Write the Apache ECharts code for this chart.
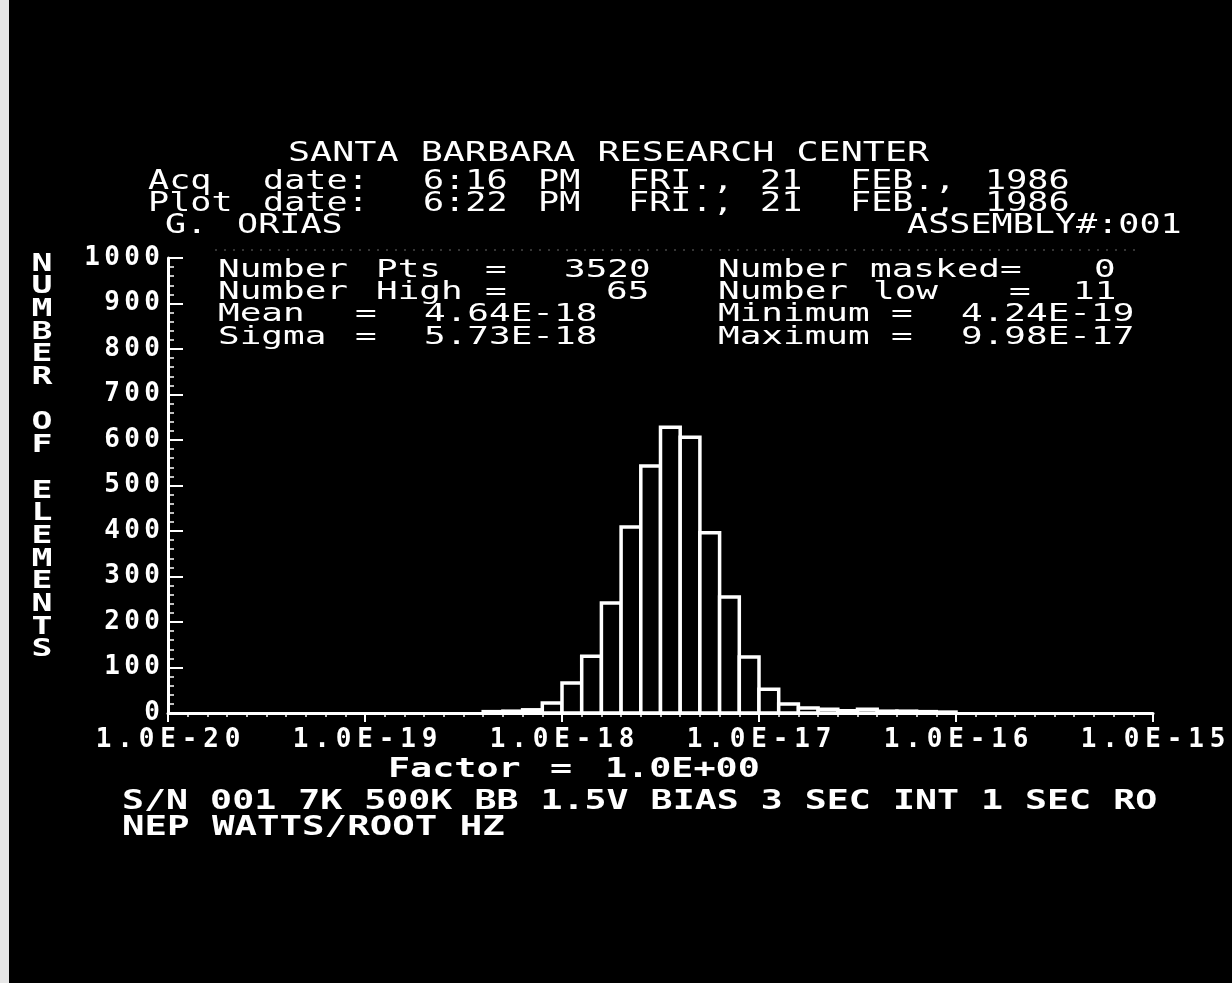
<!DOCTYPE html>
<html>
<head>
<meta charset="utf-8">
<script src="https://cdn.jsdelivr.net/npm/echarts@6/dist/echarts.min.js"></script>
<style>
html,body{margin:0;padding:0;background:#000;}
#chart{width:1232px;height:983px;}
</style>
</head>
<body>
<div id="chart"></div>
<script>
// ---- data ----
// histogram bins: lower edge as log10(NEP), each bin is 0.1 decade wide
const binStartExp = [-18.4, -18.3, -18.2, -18.1, -18.0, -17.9, -17.8, -17.7, -17.6, -17.5,
                     -17.4, -17.3, -17.2, -17.1, -17.0, -16.9, -16.8, -16.7, -16.6, -16.5,
                     -16.4, -16.3, -16.2, -16.1];
const binCounts   = [3, 4, 7, 22, 66, 125, 242, 409, 543, 628,
                     606, 396, 255, 123, 52, 20, 11, 8, 5, 8,
                     4, 4, 3, 2];
const BIN_WIDTH = 0.1;
const xTickExps   = [-20, -19, -18, -17, -16, -15];
const xTickLabels = ['1.0E-20', '1.0E-19', '1.0E-18', '1.0E-17', '1.0E-16', '1.0E-15'];
const yTicks      = [0, 100, 200, 300, 400, 500, 600, 700, 800, 900, 1000];

const MONO = '"DejaVu Sans Mono"';
const W = '#ffffff';

function perChar(s, key) {
  return s.split('').map(function (ch) { return '{' + key + '|' + ch + '}'; }).join('');
}

function t(x, y, s, font, sx) {
  return {
    type: 'text', x: x, y: y, scaleX: sx, silent: true,
    style: { text: s, font: font, fill: W, align: 'left', verticalAlign: 'middle',
             textAlign: 'left', textVerticalAlign: 'middle' }
  };
}

const fTitle = '27px ' + MONO;
const fStat = '25px ' + MONO;
const fBottom = 'bold 27px ' + MONO;

const graphics = [
  // scan edge
  { type: 'rect', silent: true, shape: { x: 0, y: 0, width: 9, height: 983 }, style: { fill: '#e6e6e6' } },
  // faint dotted remnant of stats box
  { type: 'line', silent: true, shape: { x1: 215, y1: 250, x2: 1140, y2: 250 },
    style: { stroke: '#6a6a6a', lineWidth: 1.2, lineDash: [2, 7] } },

  t(288, 154, 'SANTA BARBARA RESEARCH CENTER', fTitle, 1.36),

  t(148, 182, 'Acq', fTitle, 1.30), t(263, 182, 'date:', fTitle, 1.30),
  t(423, 182, '6:16', fTitle, 1.30), t(538, 182, 'PM', fTitle, 1.30),
  t(628, 182, 'FRI.,', fTitle, 1.30), t(760, 182, '21', fTitle, 1.30),
  t(850, 182, 'FEB.,', fTitle, 1.30), t(985, 182, '1986', fTitle, 1.30),

  t(148, 204, 'Plot', fTitle, 1.30), t(263, 204, 'date:', fTitle, 1.30),
  t(423, 204, '6:22', fTitle, 1.30), t(538, 204, 'PM', fTitle, 1.30),
  t(628, 204, 'FRI.,', fTitle, 1.30), t(760, 204, '21', fTitle, 1.30),
  t(850, 204, 'FEB.,', fTitle, 1.30), t(985, 204, '1986', fTitle, 1.30),

  t(165, 226, 'G.', fTitle, 1.30), t(237, 226, 'ORIAS', fTitle, 1.30),
  t(907, 226, 'ASSEMBLY#:001', fTitle, 1.30),

  // statistics block
  t(218, 270, 'Number', fStat, 1.44), t(376, 270, 'Pts', fStat, 1.44),
  t(485, 270, '=', fStat, 1.44), t(564, 270, '3520', fStat, 1.44),
  t(718, 270, 'Number', fStat, 1.44), t(870, 270, 'masked=', fStat, 1.44),
  t(1094, 270, '0', fStat, 1.44),

  t(218, 292, 'Number', fStat, 1.44), t(376, 292, 'High', fStat, 1.44),
  t(485, 292, '=', fStat, 1.44), t(606, 292, '65', fStat, 1.44),
  t(718, 292, 'Number', fStat, 1.44), t(873, 292, 'low', fStat, 1.44),
  t(1009, 292, '=', fStat, 1.44), t(1073, 292, '11', fStat, 1.44),

  t(218, 314, 'Mean', fStat, 1.44), t(355, 314, '=', fStat, 1.44),
  t(424, 314, '4.64E-18', fStat, 1.44),
  t(718, 314, 'Minimum', fStat, 1.44), t(891, 314, '=', fStat, 1.44),
  t(961, 314, '4.24E-19', fStat, 1.44),

  t(218, 337, 'Sigma', fStat, 1.44), t(355, 337, '=', fStat, 1.44),
  t(424, 337, '5.73E-18', fStat, 1.44),
  t(718, 337, 'Maximum', fStat, 1.44), t(891, 337, '=', fStat, 1.44),
  t(961, 337, '9.98E-17', fStat, 1.44),

  // bottom text
  t(388, 770, 'Factor', fBottom, 1.36), t(550, 770, '=', fBottom, 1.36),
  t(605, 770, '1.0E+00', fBottom, 1.36),
  t(122, 802, 'S/N 001 7K 500K BB 1.5V BIAS 3 SEC INT 1 SEC RO', fBottom, 1.355),
  t(122, 828, 'NEP WATTS/ROOT HZ', fBottom, 1.385),

  // stacked y-axis title
  {
    type: 'text', x: 42, y: 253, scaleX: 1.45, silent: true,
    style: {
      text: 'NUMBER OF ELEMENTS'.split('').join('\n'),
      font: 'bold 24px ' + MONO, fill: W, lineHeight: 22.7,
      align: 'center', verticalAlign: 'top', textAlign: 'center', textVerticalAlign: 'top'
    }
  }
];

const chart = echarts.init(document.getElementById('chart'), null, { renderer: 'canvas' });

chart.setOption({
  backgroundColor: '#000',
  animation: false,
  grid: { left: 168, right: 79, top: 258, bottom: 270, containLabel: false, outerBoundsMode: 'none' },
  xAxis: {
    type: 'value', min: -20, max: -15, interval: 1,
    splitLine: { show: false },
    axisLine: { show: true, onZero: false, lineStyle: { color: W, width: 3 } },
    axisTick: { show: true, inside: false, length: 9, lineStyle: { color: W, width: 2 } },
    minorTick: { show: true, splitNumber: 10, length: 4, lineStyle: { color: W, width: 1.5 } },
    minorSplitLine: { show: false },
    axisLabel: {
      show: true, margin: 14, showMinLabel: true, showMaxLabel: true,
      formatter: function (v) {
        const i = xTickExps.indexOf(Math.round(v));
        return perChar(i >= 0 ? xTickLabels[i] : '', 'c');
      },
      rich: { c: { width: 21.5, align: 'center', fontFamily: MONO, fontWeight: 'bold', fontSize: 26, color: W, lineHeight: 26 } }
    }
  },
  yAxis: {
    type: 'value', min: 0, max: 1000, interval: 100,
    splitLine: { show: false },
    axisLine: { show: true, lineStyle: { color: W, width: 3 } },
    axisTick: { show: true, inside: true, length: 15, lineStyle: { color: W, width: 2 } },
    minorTick: { show: true, splitNumber: 5, length: 6, lineStyle: { color: W, width: 1.5 } },
    minorSplitLine: { show: false },
    axisLabel: {
      show: true, margin: 6, showMinLabel: true, showMaxLabel: true,
      formatter: function (v) {
        return yTicks.indexOf(v) >= 0 ? perChar(String(v), 'd') : '';
      },
      rich: { d: { width: 20, align: 'center', fontFamily: MONO, fontWeight: 'bold', fontSize: 26, color: W, lineHeight: 26 } }
    }
  },
  series: [{
    type: 'custom',
    coordinateSystem: 'cartesian2d',
    data: binStartExp.map(function (e, i) { return [e, binCounts[i]]; }),
    encode: { x: 0, y: 1 },
    clip: false,
    renderItem: function (params, api) {
      const x0 = api.value(0);
      const c = api.value(1);
      const pTop = api.coord([x0, c]);
      const pBot = api.coord([x0 + BIN_WIDTH, 0]);
      return {
        type: 'rect',
        shape: { x: pTop[0], y: pTop[1], width: pBot[0] - pTop[0], height: pBot[1] - pTop[1] },
        style: { fill: '#000', stroke: W, lineWidth: 3.5 }
      };
    }
  }],
  graphic: graphics
});
</script>
</body>
</html>
